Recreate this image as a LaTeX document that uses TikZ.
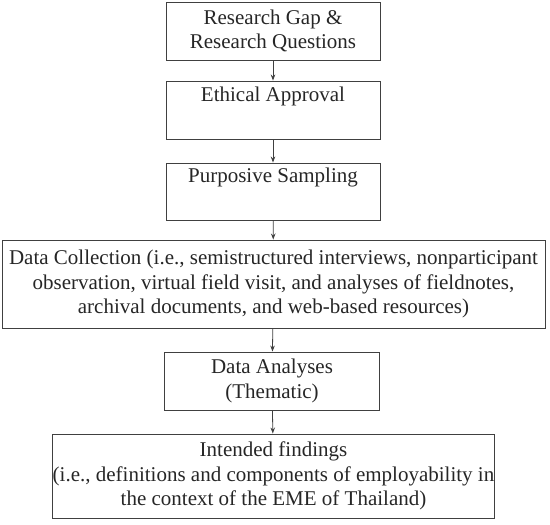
\documentclass[tikz,border=0pt]{standalone}
\usepackage{fontspec}
\setmainfont{Liberation Serif}
\usetikzlibrary{arrows.meta}
\begin{document}
\begin{tikzpicture}[x=1pt,y=-1pt,
  box/.style={draw=black!75,line width=0.9pt,inner sep=0pt,align=center,
    font=\fontsize{21}{24.5}\selectfont,text=black!85},
  conn/.style={draw=black!75,line width=0.8pt,-{Stealth[length=6pt,width=4.5pt]}}]
\useasboundingbox (0,0) rectangle (550,525);
\node[box,minimum width=214pt,minimum height=58pt] (b1) at (273,31) {Research Gap \&\\Research Questions};
\node[box,minimum width=214pt,minimum height=58pt] (b2) at (273,110) {Ethical Approval\\\strut};
\node[box,minimum width=214pt,minimum height=57pt] (b3) at (273,191.5) {Purposive Sampling\\\strut};
\node[box,minimum width=543pt,minimum height=88pt] (b4) at (273.5,284) {Data Collection (i.e., semistructured interviews, nonparticipant\\observation, virtual field visit, and analyses of fieldnotes,\\archival documents, and web-based resources)};
\node[box,minimum width=215pt,minimum height=58pt] (b5) at (272,381) {Data Analyses\\(Thematic)};
\node[box,minimum width=433pt,minimum height=84pt] (b6) at (273.5,476) {Intended findings\\(i.e., definitions and components of employability in\\the context of the EME of Thailand)};
\draw[conn] (b1) -- (b2);
\draw[conn] (b2) -- (b3);
\draw[conn] (b3) -- (b4);
\draw[conn] (b4) -- (b5);
\draw[conn] (b5) -- (b6);
\end{tikzpicture}
\end{document}
